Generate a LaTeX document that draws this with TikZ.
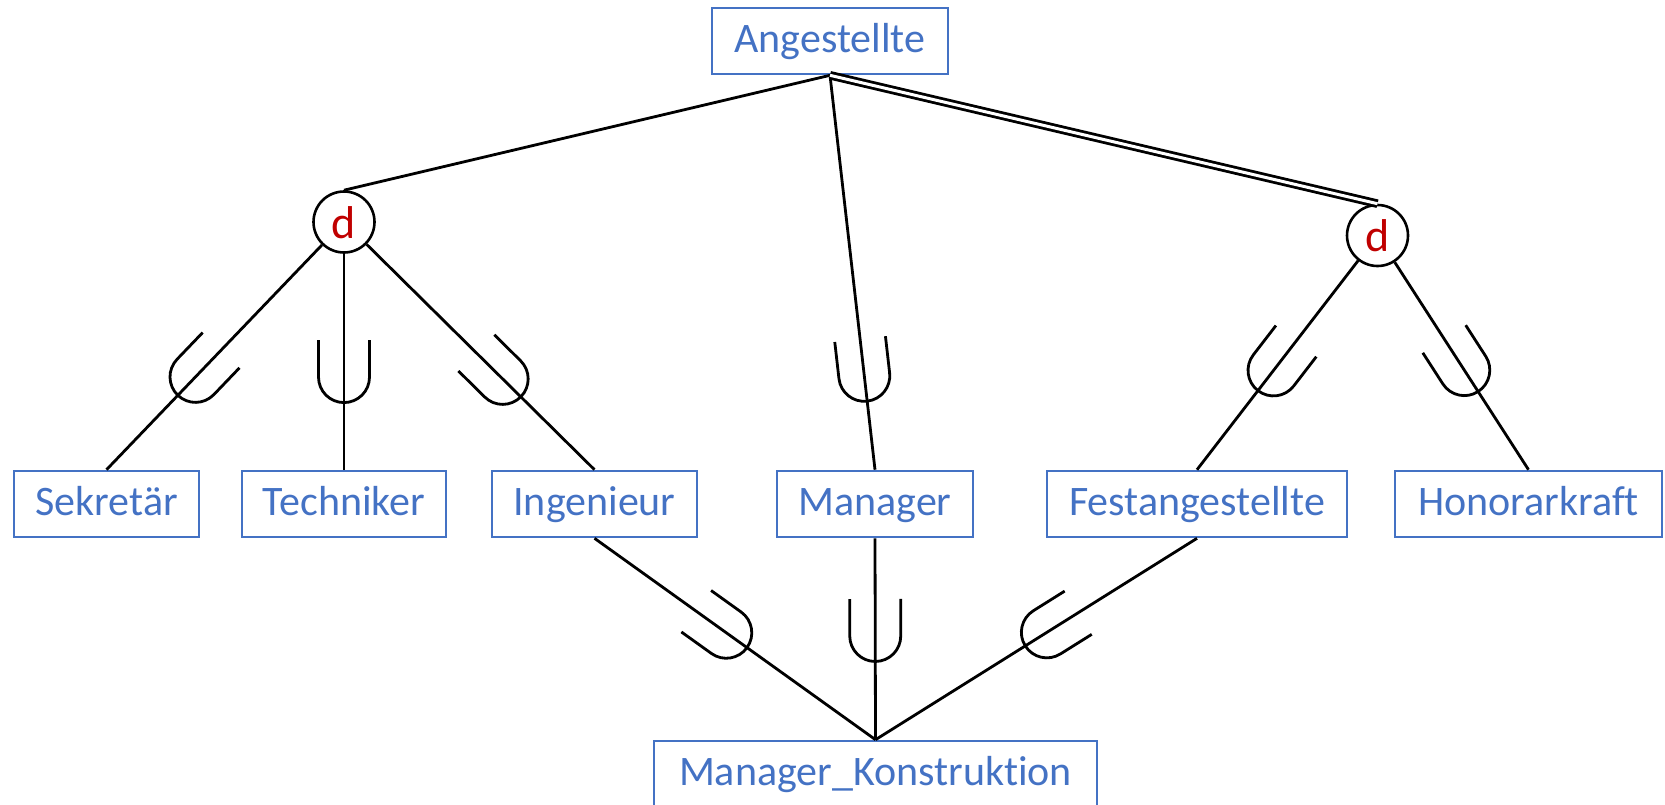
\documentclass[tikz,border=0pt]{standalone}
\usepackage{fontspec}
\setmainfont{Carlito}[Ligatures=NoCommon]
\definecolor{clsblue}{HTML}{4472C4}
\definecolor{dred}{HTML}{C00000}
\begin{document}
\begin{tikzpicture}[x=0.5pt,y=-0.5pt,
  cls/.style={draw=clsblue, line width=1.3pt, text=clsblue,
    font=\fontsize{21}{25}\selectfont, minimum height=33pt, inner sep=0pt,
    text height=13.5pt, text depth=2pt},
  disj/.style={circle, draw=black, line width=1.3pt, minimum size=30.5pt,
    inner sep=0pt, text=dred, font=\fontsize{23}{27}\selectfont,
    text height=16pt, text depth=0pt},
  link/.style={draw=black, line width=1.4pt},
  subsetmark/.pic={
    \draw[line width=1.4pt, line cap=butt]
      (-18.5pt,12.75pt) -- (0pt,12.75pt)
      arc[start angle=90, end angle=-90, radius=12.75pt]
      -- (-18.5pt,-12.75pt);
  },
  markat/.style={pos=#1, sloped, allow upside down}
]
\useasboundingbox (0,0) rectangle (1665,804);

% classes
\node[cls, minimum width=118pt]   (ang)  at (830,41)    {Angestellte};
\node[cls, minimum width=92.5pt]  (sek)  at (106.5,504) {Sekretär};
\node[cls, minimum width=102pt]   (tech) at (344,504)   {Techniker};
\node[cls, minimum width=102.5pt] (ing)  at (594.5,504) {Ingenieur};
\node[cls, minimum width=98pt]    (man)  at (875,504)   {Manager};
\node[cls, minimum width=150pt]   (fest) at (1197,504)  {Festangestellte};
\node[cls, minimum width=133.5pt] (hono) at (1528.5,504){Honorarkraft};
\node[cls, minimum width=221.5pt] (mk)   at (875.5,774) {Manager\_Konstruktion};

% disjointness circles
\node[disj] (ld) at (344,222)      {d};
\node[disj] (rd) at (1377.5,235.5) {d};

% links from the superclass
\draw[link] (ang.south) -- (ld.north);
\draw[link] (ang.south) -- pic[markat=0.762]{subsetmark} (man.north);
\draw[link, double, double distance=1.5pt] (ang.south) -- (rd.north);

% left specialisation
\draw[link] (ld) -- pic[markat=0.587]{subsetmark} (sek.north);
\draw[link] (ld) -- pic[markat=0.571]{subsetmark} (tech.north);
\draw[link] (ld) -- pic[markat=0.597]{subsetmark} (ing.north);

% right specialisation
\draw[link] (rd) -- pic[markat=0.525]{subsetmark} (fest.north);
\draw[link] (rd) -- pic[markat=0.52]{subsetmark} (hono.north);

% shared subclass
\draw[link] (ing.south)  -- pic[markat=0.469]{subsetmark} (mk.north);
\draw[link] (man.south)  -- pic[markat=0.485]{subsetmark} (mk.north);
\draw[link] (fest.south) -- pic[markat=0.467]{subsetmark} (mk.north);
\end{tikzpicture}
\end{document}
